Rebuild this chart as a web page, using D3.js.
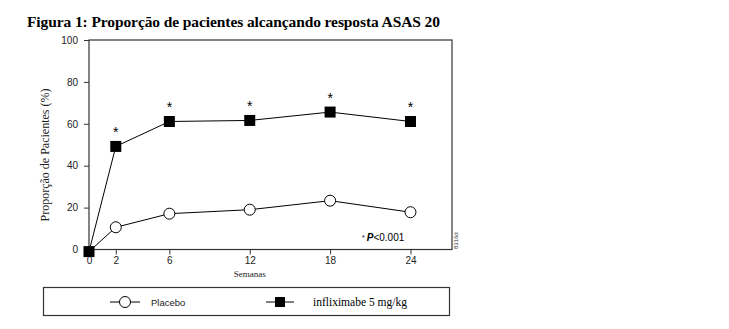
<!DOCTYPE html>
<html>
<head>
<meta charset="utf-8">
<script src="https://cdn.jsdelivr.net/npm/d3@7"></script>
<style>
  body { margin: 0; background: #fff; }
  svg { display: block; }
</style>
</head>
<body>
<svg id="chart" width="729" height="329"></svg>
<script>
// Weeks of assessment and ASAS 20 response rates (%)
const weeks = [0, 2, 6, 12, 18, 24];
const placebo = [-1, 10.6, 17.1, 19.0, 23.3, 17.8];
const infliximab = [-1, 49.2, 61.1, 61.6, 65.6, 61.1];
const significant = [false, true, true, true, true, true];
const yTicks = [0, 20, 40, 60, 80, 100];
const xTicks = [0, 2, 6, 12, 18, 24];

const svg = d3.select("#chart");
const margin = { left: 89, right: 277, top: 40, bottom: 79 };
const W = 729, H = 329;

const x = d3.scaleLinear().domain([0, 27.1]).range([margin.left, W - margin.right]);
const y = d3.scaleLinear().domain([0, 100]).range([H - margin.bottom - 0.5, margin.top]);

// Title
svg.append("text")
  .attr("x", 27).attr("y", 27)
  .attr("font-family", "'Liberation Serif', 'Times New Roman', serif")
  .attr("font-weight", "bold")
  .attr("font-size", 15.5)
  .attr("textLength", 413)
  .attr("lengthAdjust", "spacing")
  .attr("fill", "#000")
  .text("Figura 1: Proporção de pacientes alcançando resposta ASAS 20");

// Plot frame
svg.append("rect")
  .attr("x", x(0)).attr("y", y(100))
  .attr("width", x(27.1) - x(0)).attr("height", y(0) - y(100))
  .attr("fill", "none").attr("stroke", "#333").attr("stroke-width", 1.2);

// Axes
const yAxis = d3.axisLeft(y).tickValues(yTicks).tickSize(5).tickPadding(6);
const gy = svg.append("g").attr("transform", `translate(${x(0)},0)`).call(yAxis);
const xAxis = d3.axisBottom(x).tickValues(xTicks).tickSize(5).tickPadding(2);
const gx = svg.append("g").attr("transform", `translate(0,${y(0)})`).call(xAxis);
[gy, gx].forEach(g => {
  g.select(".domain").remove();
  g.selectAll(".tick line").attr("stroke", "#333");
  g.selectAll(".tick text")
    .attr("font-family", "'Liberation Sans', Arial, sans-serif")
    .attr("font-size", 10).attr("fill", "#222");
});

// Axis titles
svg.append("text")
  .attr("transform", `translate(49,155) rotate(-90)`)
  .attr("text-anchor", "middle")
  .attr("font-family", "'Liberation Serif', 'Times New Roman', serif")
  .attr("font-size", 12).attr("fill", "#222")
  .text("Proporção de Pacientes (%)");
svg.append("text")
  .attr("x", x(12)).attr("y", 277)
  .attr("text-anchor", "middle")
  .attr("font-family", "'Liberation Serif', 'Times New Roman', serif")
  .attr("font-size", 9).attr("fill", "#222")
  .text("Semanas");

// Series lines
const line = d3.line().x(d => x(d[0])).y(d => y(d[1]));
const plPts = weeks.map((w, i) => [w, placebo[i]]);
const inPts = weeks.map((w, i) => [w, infliximab[i]]);
svg.append("path").datum(plPts).attr("d", line)
  .attr("fill", "none").attr("stroke", "#000").attr("stroke-width", 1);
svg.append("path").datum(inPts).attr("d", line)
  .attr("fill", "none").attr("stroke", "#000").attr("stroke-width", 1);

// Markers
const sq = 11;
svg.selectAll("circle.pl").data(plPts.slice(1)).join("circle")
  .attr("cx", d => x(d[0])).attr("cy", d => y(d[1])).attr("r", 5.5)
  .attr("fill", "#fff").attr("stroke", "#000").attr("stroke-width", 1);
svg.selectAll("rect.in").data(inPts).join("rect")
  .attr("x", d => x(d[0]) - sq / 2).attr("y", d => y(d[1]) - sq / 2)
  .attr("width", sq).attr("height", sq).attr("fill", "#000");

// Significance asterisks
svg.selectAll("text.star").data(inPts.filter((d, i) => significant[i])).join("text")
  .attr("x", d => x(d[0])).attr("y", d => y(d[1]) - 9)
  .attr("text-anchor", "middle")
  .attr("font-family", "'Liberation Sans', Arial, sans-serif")
  .attr("font-size", 14).attr("fill", "#000")
  .text("*");

// P-value note
const note = svg.append("text")
  .attr("x", 362).attr("y", 241)
  .attr("font-family", "'Liberation Sans', Arial, sans-serif")
  .attr("font-size", 10).attr("fill", "#000");
note.append("tspan").attr("font-size", 7).attr("dy", -1).text("*");
note.append("tspan").attr("dy", 1).attr("dx", 2).attr("font-style", "italic").attr("font-weight", "bold").text("P");
note.append("tspan").text("<0.001");

// Figure code on the right edge
svg.append("text")
  .attr("transform", `translate(458,249) rotate(-90)`)
  .attr("font-family", "'Liberation Sans', Arial, sans-serif")
  .attr("font-size", 6).attr("fill", "#333")
  .text("8316d");

// Legend
svg.append("rect")
  .attr("x", 43.5).attr("y", 287.5).attr("width", 406).attr("height", 28)
  .attr("fill", "none").attr("stroke", "#333").attr("stroke-width", 1.2);
const ly = 302;
svg.append("line").attr("x1", 110).attr("x2", 140).attr("y1", ly).attr("y2", ly).attr("stroke", "#000");
svg.append("circle").attr("cx", 125).attr("cy", ly).attr("r", 5.5)
  .attr("fill", "#fff").attr("stroke", "#000");
svg.append("text").attr("x", 151).attr("y", ly + 3.5)
  .attr("font-family", "'Liberation Sans', Arial, sans-serif")
  .attr("font-size", 9.5).attr("fill", "#222").text("Placebo");
svg.append("line").attr("x1", 266).attr("x2", 294).attr("y1", ly).attr("y2", ly).attr("stroke", "#000");
svg.append("rect").attr("x", 275).attr("y", ly - 5).attr("width", 10).attr("height", 10).attr("fill", "#000");
svg.append("text").attr("x", 313).attr("y", ly + 4)
  .attr("font-family", "'Liberation Serif', 'Times New Roman', serif")
  .attr("font-size", 11.5).attr("fill", "#000").text("infliximabe 5 mg/kg");
</script>
</body>
</html>
